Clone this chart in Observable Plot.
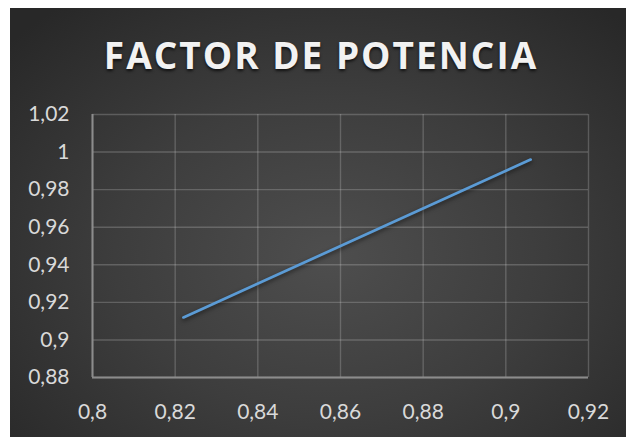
<!DOCTYPE html>
<html>
<head>
<meta charset="utf-8">
<script src="https://cdn.jsdelivr.net/npm/d3@7"></script>
<script src="https://cdn.jsdelivr.net/npm/@observablehq/plot@0.6"></script>
<style>
  html, body { margin: 0; padding: 0; background: #ffffff; width: 626px; height: 437px; overflow: hidden; }
  #chart {
    position: absolute; left: 10px; top: 8px; width: 616px; height: 429px;
    background: radial-gradient(ellipse 70% 75% at 52% 58%, #4e4e4e 0%, #3d3d3d 50%, #282828 100%);
  }
  #title {
    position: absolute; left: 0; top: 0; width: 616px; height: 82px;
    text-align: center; font-family: "Open Sans", sans-serif; font-weight: 700;
    font-size: 37px; line-height: 38px; padding-top: 28px; box-sizing: border-box;
    color: #f2f2f2; letter-spacing: 2px; padding-left: 6px;
    text-shadow: 0 2px 3px rgba(0,0,0,0.7);
  }
  #plot { position: absolute; left: 0; top: 82px; }
  #plot svg { background: transparent; }
  .line-shadow { filter: drop-shadow(0px 2px 2px rgba(0,0,0,0.55)); }
</style>
</head>
<body>
<div id="chart">
  <div id="title">FACTOR DE POTENCIA</div>
  <div id="plot"></div>
</div>
<script>
const titleText = "FACTOR DE POTENCIA";
const xValues = [0.822, 0.906];
const yValues = [0.912, 0.996];
const xTicks = [0.80, 0.82, 0.84, 0.86, 0.88, 0.90, 0.92];
const yTicks = [0.88, 0.90, 0.92, 0.94, 0.96, 0.98, 1.00, 1.02];

const data = xValues.map((x, i) => ({x, y: yValues[i]}));
const fmt = d => String(+d.toFixed(2)).replace(".", ",");

const chart = Plot.plot({
  width: 616,
  height: 347,
  marginTop: 24,
  marginBottom: 60,
  marginLeft: 82,
  marginRight: 38,
  style: {background: "transparent", color: "#d9d9d9", fontFamily: "Lato, sans-serif", fontSize: "21px"},
  x: {domain: [0.8, 0.92], ticks: xTicks, tickFormat: fmt, label: null},
  y: {domain: [0.88, 1.02], ticks: yTicks, tickFormat: fmt, label: null},
  marks: [
    Plot.gridX(xTicks, {stroke: "#d9d9d9", strokeOpacity: 0.24, strokeWidth: 1.4}),
    Plot.gridY(yTicks, {stroke: "#d9d9d9", strokeOpacity: 0.24, strokeWidth: 1.4}),
    Plot.ruleX([0.8], {stroke: "#8c8c8c", strokeWidth: 2}),
    Plot.ruleY([0.88], {stroke: "#8c8c8c", strokeWidth: 2}),
    Plot.axisX(xTicks, {tickSize: 0, tickPadding: 27, tickFormat: fmt, fill: "#d9d9d9", fontSize: 21, label: null}),
    Plot.axisY(yTicks, {tickSize: 0, tickPadding: 23, tickFormat: fmt, fill: "#d9d9d9", fontSize: 21, label: null}),
    Plot.line(data, {x: "x", y: "y", stroke: "#5b9bd5", strokeWidth: 2.75, className: "line-shadow"})
  ]
});
document.getElementById("plot").appendChild(chart);
</script>
</body>
</html>
